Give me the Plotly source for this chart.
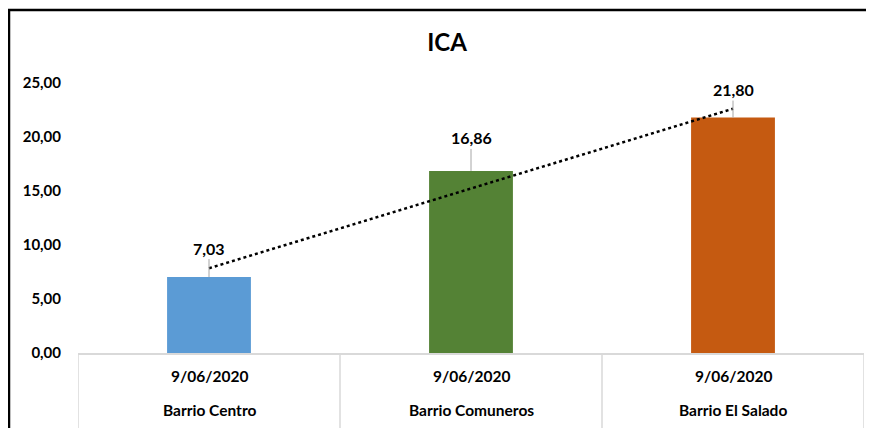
import numpy as np
import plotly.graph_objects as go

categories = ["Barrio Centro", "Barrio Comuneros", "Barrio El Salado"]
dates = ["9/06/2020", "9/06/2020", "9/06/2020"]
values = [7.03, 16.86, 21.80]
colors = ["#5B9BD5", "#548235", "#C55A11"]
label_offsets = [-29, -33, -28]
y_ticks = [0, 5, 10, 15, 20, 25]

# page body has an 8px margin, so the figure is sized to the visible area
OFF = 8
W, H = 874 - OFF, 428 - OFF
ML, MR, MT, MB = 70, 10, 75, 75
PW, PH = W - ML - MR, H - MT - MB
FONT = "Lato"

fig = go.Figure()
xs = list(range(len(categories)))
fig.add_trace(go.Bar(x=xs, y=values, marker=dict(color=colors, line=dict(width=0)),
                     width=0.32, showlegend=False, hoverinfo="skip"))

# linear trendline (least squares over category index)
slope, intercept = np.polyfit(np.array(xs) + 1, values, 1)
trend = [slope * (i + 1) + intercept for i in xs]
fig.add_trace(go.Scatter(x=xs, y=trend, mode="lines",
                         line=dict(color="black", width=2.5, dash="dot"),
                         showlegend=False, hoverinfo="skip"))

annotations = []
for i, v in enumerate(values):
    annotations.append(dict(x=i, y=v, xref="x", yref="y", text=f"{v:.2f}".replace(".", ","),
                            showarrow=True, arrowhead=0, arrowwidth=1, arrowcolor="#A6A6A6",
                            ax=0, ay=label_offsets[i], standoff=0,
                            font=dict(family=FONT, size=16, color="black", weight="bold")))
    annotations.append(dict(x=i, y=0, xref="x", yref="paper", text=dates[i], showarrow=False,
                            yanchor="middle", yshift=-23,
                            font=dict(family=FONT, size=15.5, color="black", weight="bold")))
    annotations.append(dict(x=i, y=0, xref="x", yref="paper", text=categories[i], showarrow=False,
                            yanchor="middle", yshift=-57,
                            font=dict(family=FONT, size=15.5, color="black", weight="bold")))

def px_x(p):
    return (p - OFF - ML) / PW

def px_y(p):
    return (H - MB - (p - OFF)) / PH

shapes = []
for b in [-0.5, 0.5, 1.5, 2.5]:
    shapes.append(dict(type="line", xref="x", yref="paper", x0=b, x1=b, y0=0, y1=px_y(430),
                       line=dict(color="#D9D9D9", width=1.5)))
shapes.append(dict(type="line", xref="paper", yref="paper", x0=px_x(9), x1=px_x(9),
                   y0=px_y(9), y1=px_y(440), line=dict(color="black", width=2.5)))
shapes.append(dict(type="line", xref="paper", yref="paper", x0=px_x(8), x1=px_x(873),
                   y0=px_y(10), y1=px_y(10), line=dict(color="black", width=2.5)))

fig.update_layout(
    width=W, height=H,
    margin=dict(l=ML, r=MR, t=MT, b=MB),
    paper_bgcolor="white", plot_bgcolor="white",
    title=dict(text="<b>ICA</b>", x=(447 - OFF) / W, xanchor="center",
               y=1 - (43 - OFF) / H, yanchor="middle",
               font=dict(family=FONT, size=24, color="black")),
    xaxis=dict(range=[-0.5, 2.5], showticklabels=False, showgrid=False, zeroline=False,
               showline=True, linecolor="#D9D9D9", linewidth=1.5, ticks=""),
    yaxis=dict(range=[0, 25], tickvals=y_ticks,
               ticktext=[f"{t:.2f}".replace(".", ",") for t in y_ticks],
               showgrid=False, zeroline=False, showline=False, ticks="", ticklabelstandoff=16,
               tickfont=dict(family=FONT, size=15, color="black", weight="bold")),
    annotations=annotations, shapes=shapes,
)
fig.write_html("out.html")
